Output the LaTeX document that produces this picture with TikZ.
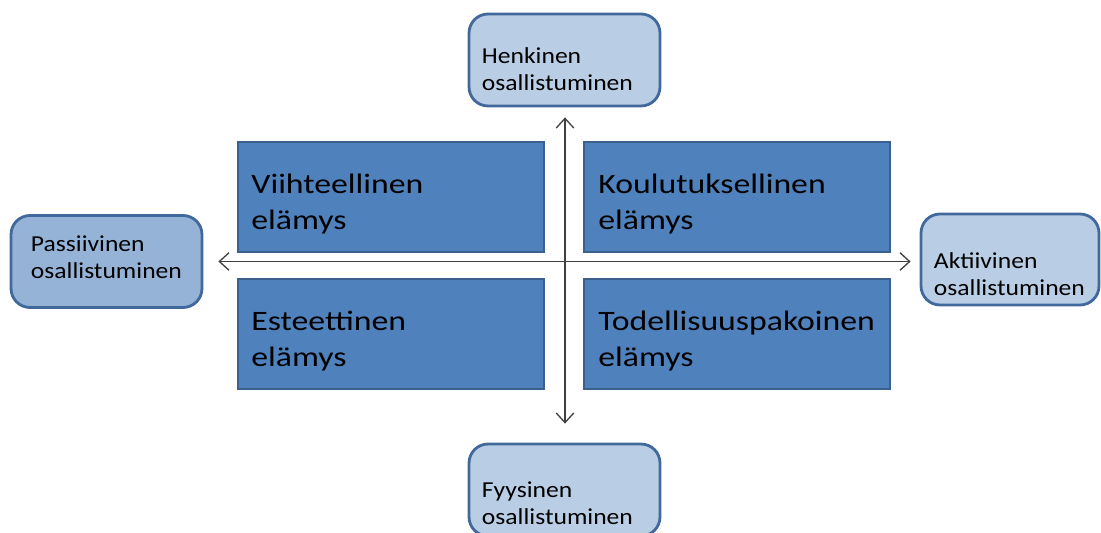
\documentclass[tikz,border=0pt]{standalone}
\usepackage{fontspec}
\setmainfont{Carlito}
\newfontfamily\widefont[FakeStretch=1.2]{Carlito}
\newfontfamily\polefont[FakeStretch=1.12]{Carlito}
\usepackage{tikz}
\usetikzlibrary{arrows.meta,positioning}
\definecolor{quadfill}{RGB}{79,129,189}
\definecolor{quaddraw}{RGB}{58,96,142}
\definecolor{polefill}{RGB}{185,205,229}
\definecolor{poledark}{RGB}{149,179,215}
\definecolor{poledraw}{RGB}{65,105,155}
\definecolor{axisgrey}{RGB}{64,64,64}
\tikzstyle{quad} = [rectangle, minimum width=6.12cm, minimum height=2.2cm, draw=quaddraw, fill=quadfill, line width=1.1pt]
\tikzstyle{pole} = [rectangle, rounded corners=0.38cm, minimum width=3.82cm, minimum height=1.84cm, draw=poledraw, fill=polefill, line width=1.6pt]
\tikzstyle{quadtext} = [anchor=base west, inner sep=0pt, text width=6cm, align=left, font=\widefont\fontsize{16pt}{21pt}\selectfont]
\tikzstyle{poletext} = [anchor=base west, inner sep=0pt, text width=3.6cm, align=left, font=\polefont\fontsize{13pt}{15.5pt}\selectfont]
\tikzstyle{axis} = [line width=0.75pt, draw=axisgrey, {Straight Barb[length=5.5pt,width=10pt]}-{Straight Barb[length=5.5pt,width=10pt]}]

\begin{document}
\begin{tikzpicture}[x=0.02cm, y=-0.02cm]
\useasboundingbox (0,0) rectangle (1101,533);
\clip (0,0) rectangle (1101,533);
% the four experience fields
\node (viihde) [quad] at (391,197) {};
\node (koulu) [quad] at (737,197) {};
\node (estee) [quad] at (391,334) {};
\node (pako) [quad] at (737,334) {};
\node (viihdetxt) [quadtext] at ([shift={(14,52)}]viihde.north west) {Viihteellinen\\elämys};
\node (koulutxt) [quadtext] at ([shift={(15,52)}]koulu.north west) {Koulutuksellinen\\elämys};
\node (esteetxt) [quadtext] at ([shift={(14,52)}]estee.north west) {Esteettinen\\elämys};
\node (pakotxt) [quadtext] at ([shift={(15,52)}]pako.north west) {Todellisuuspakoinen\\elämys};
% the poles of the axes
\node (henk) [pole] at (564.5,60) {};
\node (fyys) [pole] at (564.5,490) {};
\node (pass) [pole, fill=poledark] at (106.5,261.5) {};
\node (akti) [pole, minimum width=3.56cm, minimum height=1.82cm] at (1010,259.5) {};
\node (henktxt) [poletext] at ([shift={(14,51)}]henk.north west) {Henkinen\\osallistuminen};
\node (fyystxt) [poletext] at ([shift={(14,55)}]fyys.north west) {Fyysinen\\osallistuminen};
\node (passtxt) [poletext] at ([shift={(21,37)}]pass.north west) {Passiivinen\\osallistuminen};
\node (aktitxt) [poletext] at ([shift={(14,56)}]akti.north west) {Aktiivinen\\osallistuminen};
% axes
\coordinate (yt) at ([shift={(0.5,10)}]henk.south);
\coordinate (yb) at ([shift={(0.5,-19)}]fyys.north);
\coordinate (xl) at ([shift={(15,0)}]pass.east);
\path (xl -| akti.west) ++(-9,0) coordinate (xr);
\draw[axis] (yt) -- (yb);
\draw[axis] (xl) -- (xr);
\end{tikzpicture}
\end{document}
